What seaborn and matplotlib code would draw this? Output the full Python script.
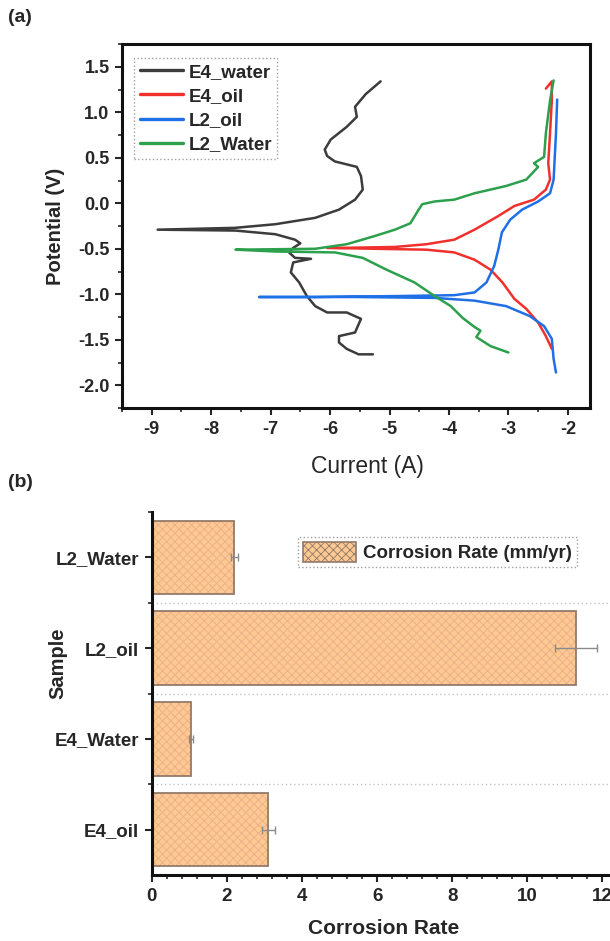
import numpy as np
import pandas as pd
import matplotlib
matplotlib.use("Agg")
import matplotlib.pyplot as plt
from matplotlib.ticker import MultipleLocator, AutoMinorLocator
import seaborn as sns

# ---------------- data: panel (a) Tafel curves ----------------
e4_water_I = [-5.15, -5.40, -5.58, -5.55, -5.72, -5.99, -6.09, -6.05, -5.92, -5.55, -5.48, -5.45,
              -5.58, -5.85, -6.25, -6.92, -7.60, -8.90, -7.59, -6.92, -6.59, -6.50, -6.62, -6.69,
              -6.59, -6.32, -6.62, -6.66, -6.52, -6.39, -6.25, -6.05, -5.72, -5.48, -5.58, -5.85,
              -5.85, -5.72, -5.52, -5.28]
e4_water_V = [1.34, 1.20, 1.06, 0.95, 0.84, 0.70, 0.59, 0.52, 0.46, 0.40, 0.30, 0.15,
              0.04, -0.07, -0.16, -0.23, -0.27, -0.29, -0.30, -0.34, -0.40, -0.44, -0.49, -0.54,
              -0.60, -0.61, -0.65, -0.76, -0.87, -1.02, -1.13, -1.20, -1.20, -1.27, -1.42, -1.46,
              -1.53, -1.60, -1.66, -1.66]

e4_oil_I = [-2.37, -2.27, -2.27, -2.30, -2.33, -2.30, -2.37, -2.57, -2.90, -3.17, -3.57, -3.91,
            -4.38, -4.91, -5.78, -6.05, -5.25, -4.38, -3.91, -3.57, -3.30, -3.10, -2.90, -2.70,
            -2.50, -2.37, -2.27]
e4_oil_V = [1.26, 1.34, 1.13, 0.77, 0.44, 0.26, 0.15, 0.04, -0.03, -0.14, -0.29, -0.40,
            -0.45, -0.48, -0.49, -0.49, -0.50, -0.51, -0.54, -0.62, -0.73, -0.87, -1.05, -1.16,
            -1.31, -1.46, -1.60]

l2_oil_I = [-2.18, -2.20, -2.24, -2.30, -2.50, -2.77, -2.97, -3.11, -3.17, -3.24, -3.37, -3.57,
            -3.91, -4.91, -6.25, -7.19, -5.58, -4.24, -3.57, -3.04, -2.64, -2.40, -2.27, -2.24,
            -2.20]
l2_oil_V = [1.14, 0.77, 0.26, 0.11, 0.02, -0.07, -0.18, -0.32, -0.51, -0.69, -0.87, -0.98,
            -1.01, -1.02, -1.03, -1.03, -1.03, -1.04, -1.07, -1.13, -1.24, -1.35, -1.49, -1.71,
            -1.86]

l2_water_I = [-2.24, -2.30, -2.37, -2.40, -2.57, -2.50, -2.70, -3.04, -3.57, -3.91, -4.24, -4.45,
              -4.51, -4.65, -4.91, -5.25, -5.72, -6.25, -7.59, -6.92, -5.92, -5.45, -5.05, -4.58,
              -4.24, -3.97, -3.77, -3.57, -3.47, -3.54, -3.30, -3.00]
l2_water_V = [1.35, 1.13, 0.77, 0.51, 0.44, 0.40, 0.26, 0.19, 0.11, 0.04, 0.02, -0.01,
              -0.07, -0.22, -0.29, -0.36, -0.45, -0.50, -0.51, -0.53, -0.54, -0.60, -0.73, -0.87,
              -1.02, -1.13, -1.26, -1.36, -1.40, -1.47, -1.57, -1.64]

series_names = ["E4_water", "E4_oil", "L2_oil", "L2_Water"]
series_colors = ["#3c3c3c", "#f0302c", "#1f6fe6", "#2ca04c"]

# ---------------- data: panel (b) corrosion rate ----------------
samples = ["L2_Water", "L2_oil", "E4_Water", "E4_oil"]
rates = [2.2, 11.3, 1.05, 3.1]
rate_err = [0.1, 0.55, 0.05, 0.17]

# ---------------- style ----------------
sns.set_style("ticks")
plt.rcParams["font.family"] = ["Liberation Sans", "DejaVu Sans"]
plt.rcParams["font.weight"] = "bold"
plt.rcParams["axes.labelweight"] = "bold"
plt.rcParams["hatch.linewidth"] = 0.6

fig = plt.figure(figsize=(6.1, 9.41), dpi=100)

# ---------------- panel (a) ----------------
ax1 = fig.add_axes([0.2, 0.5664, 0.767, 0.3868])
frames = []
for name, I, V in zip(series_names,
                      [e4_water_I, e4_oil_I, l2_oil_I, l2_water_I],
                      [e4_water_V, e4_oil_V, l2_oil_V, l2_water_V]):
    frames.append(pd.DataFrame({"Current": I, "Potential": V, "series": name}))
df = pd.concat(frames, ignore_index=True)
sns.lineplot(data=df, x="Current", y="Potential", hue="series", hue_order=series_names,
             palette=dict(zip(series_names, series_colors)), sort=False, estimator=None,
             linewidth=1.8, ax=ax1)
ax1.set_xlim(-9.5, -1.63)
ax1.set_ylim(-2.25, 1.75)
ax1.xaxis.set_minor_locator(MultipleLocator(0.5))
ax1.yaxis.set_minor_locator(MultipleLocator(0.25))
ax1.set_yticks([1.5, 1.0, 0.5, 0.0, -0.5, -1.0, -1.5, -2.0])
ax1.set_yticklabels(["1.5", "1.0", "0.5", "0.0", "-0.5", "-1.0", "-1.5", "-2.0"])
ax1.set_xticks([-9, -8, -7, -6, -5, -4, -3, -2])
ax1.set_xticklabels(["-9", "-8", "-7", "-6", "-5", "-4", "-3", "-2"])
for s in ax1.spines.values():
    s.set_linewidth(2.2)
    s.set_color("#111111")
ax1.tick_params(axis="both", which="major", direction="out", length=5, width=1.5,
                labelsize=13, pad=4)
ax1.tick_params(axis="both", which="minor", direction="out", length=3, width=1.2)
for lab in ax1.get_xticklabels() + ax1.get_yticklabels():
    lab.set_fontweight("bold")
ax1.set_xlabel("Current (A)", fontsize=16.5, fontweight="normal", va="center")
ax1.set_ylabel("Potential (V)", fontsize=14.5, fontweight="bold")
ax1.xaxis.set_label_coords((368 - 122) / 468, -(466 - 408) / 364)
ax1.yaxis.set_label_coords(-(122 - 65) / 468, 0.5)
leg1 = ax1.legend(loc="upper left", bbox_to_anchor=((134 - 122) / 468, (408 - 58) / 364),
                  frameon=True, fancybox=False, fontsize=13.5, handlelength=2.3,
                  handletextpad=0.3, borderpad=0.3, labelspacing=0.38, borderaxespad=0)
leg1.get_frame().set_linestyle(":")
leg1.get_frame().set_edgecolor("#888888")
leg1.get_frame().set_linewidth(1.0)
for t in leg1.get_texts():
    t.set_fontweight("bold")
for h in leg1.get_lines():
    h.set_linewidth(2.4)

# ---------------- panel (b) ----------------
ax2 = fig.add_axes([0.249, 0.0701, 0.757, 0.3858])
dfb = pd.DataFrame({"Sample": samples, "Rate": rates})
for yb in [0.5, 1.5, 2.5]:
    ax2.axhline(yb, color="#c4c4c4", linestyle=(0, (1, 2)), linewidth=1.0, zorder=0)
sns.barplot(data=dfb, x="Rate", y="Sample", order=samples, color="#fbc991", saturation=1,
            width=0.81, edgecolor="#efac88", hatch="xxxx", linewidth=0, ax=ax2,
            label="Corrosion Rate (mm/yr)", errorbar=None)
sns.barplot(data=dfb, x="Rate", y="Sample", order=samples, fill=False,
            width=0.81, edgecolor="#94796a", linewidth=1.3, ax=ax2, errorbar=None)
ax2.errorbar(rates, np.arange(len(samples)), xerr=rate_err, fmt="none",
             ecolor="#8a8a8a", elinewidth=1.0, capsize=3, capthick=1.0, zorder=5)
ax2.set_xlim(0, 12.3)
ax2.set_ylim(3.5, -0.5)
ax2.set_xticks([0, 2, 4, 6, 8, 10, 12])
ax2.xaxis.set_minor_locator(AutoMinorLocator(5))
ax2.set_yticks([0.5, 1.5, 2.5, -0.5], minor=True)
sns.despine(ax=ax2)
for side in ["left", "bottom"]:
    ax2.spines[side].set_linewidth(2.2)
    ax2.spines[side].set_color("#111111")
ax2.tick_params(axis="both", which="major", direction="out", length=5, width=1.5,
                labelsize=13.5, pad=4)
ax2.tick_params(axis="both", which="minor", direction="out", length=3, width=1.2)
for lab in ax2.get_xticklabels() + ax2.get_yticklabels():
    lab.set_fontweight("bold")
ax2.set_xlabel("Corrosion Rate", fontsize=15, fontweight="bold", va="center")
ax2.set_ylabel("Sample", fontsize=14.5, fontweight="bold")
ax2.xaxis.set_label_coords((384 - 152) / 462, -(928 - 875) / 363)
ax2.yaxis.set_label_coords(-(152 - 67) / 462, (875 - 663) / 363)
handles, labels = ax2.get_legend_handles_labels()
leg2 = ax2.legend(handles[:1], labels[:1], loc="upper right",
                  bbox_to_anchor=((577 - 152) / 462, (875 - 537) / 363),
                  frameon=True, fancybox=False, fontsize=13.5, handlelength=2.8,
                  handleheight=1.3, handletextpad=0.4, borderpad=0.25, borderaxespad=0)
leg2.get_frame().set_linestyle(":")
leg2.get_frame().set_edgecolor("#888888")
for t in leg2.get_texts():
    t.set_fontweight("bold")
for p in leg2.get_patches():
    p.set_edgecolor("#94796a")
    p.set_linewidth(1.2)

fig.text(8 / 610, 1 - 18 / 941, "(a)", fontsize=14, fontweight="bold", va="center", ha="left")
fig.text(8 / 610, 1 - 482 / 941, "(b)", fontsize=14, fontweight="bold", va="center", ha="left")

fig.savefig("out.png", dpi=100)
